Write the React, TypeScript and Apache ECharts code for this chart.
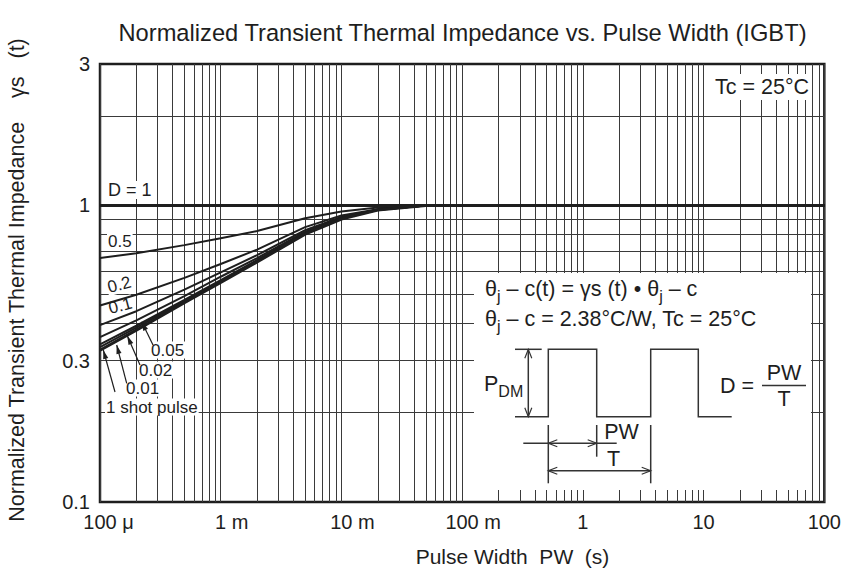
import React, { useEffect, useRef } from 'react';
import * as echarts from 'echarts';

// ---- data ----
const pulseWidth = [1e-4, 2e-4, 5e-4, 1e-3, 2e-3, 5e-3, 1e-2, 2e-2, 5e-2, 100];
const curveD1 = [1, 1, 1, 1, 1, 1, 1, 1, 1, 1];
const curveD05 = [0.665, 0.69, 0.735, 0.775, 0.82, 0.905, 0.955, 0.985, 1, 1];
const curveD02 = [0.46, 0.5, 0.57, 0.635, 0.71, 0.845, 0.925, 0.972, 1, 1];
const curveD01 = [0.395, 0.44, 0.52, 0.595, 0.68, 0.825, 0.915, 0.97, 1, 1];
const curveD005 = [0.36, 0.41, 0.495, 0.575, 0.665, 0.815, 0.91, 0.968, 1, 1];
const curveD002 = [0.34, 0.393, 0.48, 0.56, 0.655, 0.81, 0.907, 0.967, 1, 1];
const curveD001 = [0.333, 0.387, 0.476, 0.556, 0.65, 0.805, 0.905, 0.966, 1, 1];
const curveSingle = [0.325, 0.38, 0.47, 0.55, 0.645, 0.8, 0.9, 0.965, 1, 1];

const xTickLabels = ['100 μ', '1 m', '10 m', '100 m', '1', '10', '100'];
const yTickValues = [3, 1, 0.3, 0.1];
const yTickLabels = ['3', '1', '0.3', '0.1'];

const xDecades = [1e-4, 1e-3, 1e-2, 1e-1, 1, 10];
const gridMultipliers = [1, 2, 3, 4, 5, 6, 7, 8, 9];
const yGridValues = [0.2, 0.3, 0.4, 0.5, 0.6, 0.7, 0.8, 0.9, 1, 2];

const FONT = '"Liberation Sans", Arial, Helvetica, sans-serif';
const INK = '#1e1e1e';

function pts(arr: number[]) {
  return pulseWidth.map((t, i) => [t, arr[i]]);
}

function filledHead(tip: number[], tail: number[], len = 9, hw = 2.6) {
  const dx = tip[0] - tail[0];
  const dy = tip[1] - tail[1];
  const d = Math.hypot(dx, dy);
  const ux = dx / d, uy = dy / d;
  const bx = tip[0] - ux * len, by = tip[1] - uy * len;
  return [tip, [bx - uy * hw, by + ux * hw], [bx + uy * hw, by - ux * hw]];
}
function openHead(tip: number[], dir: number[], len = 9, hw = 3.5) {
  const ux = dir[0], uy = dir[1];
  const bx = tip[0] - ux * len, by = tip[1] - uy * len;
  return [[bx - uy * hw, by + ux * hw], tip, [bx + uy * hw, by - ux * hw]];
}

export default function App() {
  const ref = useRef<HTMLDivElement>(null);
  useEffect(() => {
    if (!ref.current) return;
    const chart = echarts.init(ref.current, undefined, { renderer: 'svg' });

    const xGrid: number[] = [];
    xDecades.forEach((d) => gridMultipliers.forEach((m) => xGrid.push(d * m)));
    xGrid.push(100);

    const curve = (name: string, arr: number[], w: number) => ({
      type: 'line',
      name,
      data: pts(arr),
      symbol: 'none',
      z: 5,
      lineStyle: { color: INK, width: w },
      silent: true,
    });

    const curveLabels = [
      { text: 'D = 1', x: 107, y: 190, rot: 0, size: 18 },
      { text: '0.5', x: 107, y: 241, rot: 0, size: 17 },
      { text: '0.2', x: 107, y: 288, rot: 0.26, size: 17 },
      { text: '0.1', x: 108, y: 309, rot: 0.26, size: 17 },
      { text: '0.05', x: 150, y: 350, rot: 0, size: 17 },
      { text: '0.02', x: 138, y: 370, rot: 0, size: 17 },
      { text: '0.01', x: 125, y: 388, rot: 0, size: 17 },
      { text: '1 shot pulse', x: 105, y: 407, rot: 0, size: 17 },
    ];
    const arrows = [
      { tail: [153, 345], tip: [141.7, 321.7] },
      { tail: [140, 365], tip: [127.3, 335.7] },
      { tail: [126.7, 383.3], tip: [116.7, 345] },
      { tail: [115, 392], tip: [103.3, 350] },
    ];

    const graphic: any[] = [];
    graphic.push({ type: 'rect', z: 3, shape: { x: 474, y: 273, width: 337, height: 217 }, style: { fill: '#fff' }, silent: true });

    curveLabels.forEach((l) => {
      graphic.push({
        type: 'text', z: 4, x: l.x, y: l.y, rotation: l.rot, originX: 0, originY: 0,
        style: { text: l.text, fontSize: l.size, fontFamily: FONT, fill: INK, align: 'left', verticalAlign: 'middle', backgroundColor: '#fff', padding: [0, 1] },
      });
    });
    arrows.forEach((a) => {
      graphic.push({ type: 'line', z: 6, shape: { x1: a.tail[0], y1: a.tail[1], x2: a.tip[0], y2: a.tip[1] }, style: { stroke: INK, lineWidth: 1.2 } });
      graphic.push({ type: 'polygon', z: 6, shape: { points: filledHead(a.tip, a.tail) }, style: { fill: INK } });
    });

    graphic.push({
      type: 'text', z: 6, x: 762, y: 87,
      style: { text: 'Tc = 25°C', fontSize: 21.5, fontFamily: FONT, fill: INK, align: 'center', verticalAlign: 'middle', backgroundColor: '#fff', padding: [2, 3] },
    });

    const richMain = { fontSize: 21.5, fontFamily: FONT, fill: INK, lineHeight: 30, verticalAlign: 'middle' };
    const richSub = { fontSize: 16, fontFamily: FONT, fill: INK, lineHeight: 14, verticalAlign: 'bottom' };
    graphic.push({
      type: 'text', z: 6, x: 485, y: 289,
      style: { text: '{a|θ}{s|j}{a| – c(t) = γs (t) • θ}{s|j}{a| – c}', fontFamily: FONT, fontSize: 21.5, fill: INK, align: 'left', verticalAlign: 'middle', rich: { a: richMain, s: richSub } },
    });
    graphic.push({
      type: 'text', z: 6, x: 485, y: 319,
      style: { text: '{a|θ}{s|j}{a| – c = 2.38°C/W, Tc = 25°C}', fontFamily: FONT, fontSize: 21.5, fill: INK, align: 'left', verticalAlign: 'middle', rich: { a: richMain, s: richSub } },
    });
    graphic.push({
      type: 'text', z: 6, x: 484, y: 384,
      style: { text: '{a|P}{s|DM}', fontFamily: FONT, fontSize: 21.5, fill: INK, align: 'left', verticalAlign: 'middle', rich: { a: richMain, s: richSub } },
    });

    const waveStroke = { stroke: '#333', lineWidth: 1.5, fill: 'none' };
    const headStroke = { stroke: '#333', lineWidth: 1.2, fill: 'none' };
    graphic.push({
      type: 'polyline', z: 6,
      shape: { points: [[515, 416.7], [548.3, 416.7], [548.3, 349.3], [596.7, 349.3], [596.7, 416.7], [650.7, 416.7], [650.7, 349.3], [698.3, 349.3], [698.3, 416.7], [731.7, 416.7]] },
      style: waveStroke,
    });
    graphic.push({ type: 'line', z: 6, shape: { x1: 515, y1: 349.3, x2: 541.7, y2: 349.3 }, style: waveStroke });
    graphic.push({ type: 'line', z: 6, shape: { x1: 528.3, y1: 349.3, x2: 528.3, y2: 416.7 }, style: waveStroke });
    graphic.push({ type: 'polyline', z: 6, shape: { points: openHead([528.3, 349.3], [0, -1]) }, style: headStroke });
    graphic.push({ type: 'polyline', z: 6, shape: { points: openHead([528.3, 416.7], [0, 1]) }, style: headStroke });
    graphic.push({ type: 'line', z: 6, shape: { x1: 548.3, y1: 425, x2: 548.3, y2: 483.3 }, style: waveStroke });
    graphic.push({ type: 'line', z: 6, shape: { x1: 596.7, y1: 425, x2: 596.7, y2: 456.7 }, style: waveStroke });
    graphic.push({ type: 'line', z: 6, shape: { x1: 650.7, y1: 425, x2: 650.7, y2: 483.3 }, style: waveStroke });
    graphic.push({ type: 'line', z: 6, shape: { x1: 523.3, y1: 443.3, x2: 616.7, y2: 443.3 }, style: waveStroke });
    graphic.push({ type: 'polyline', z: 6, shape: { points: openHead([548.3, 443.3], [-1, 0]) }, style: headStroke });
    graphic.push({ type: 'polyline', z: 6, shape: { points: openHead([596.7, 443.3], [1, 0]) }, style: headStroke });
    graphic.push({ type: 'line', z: 6, shape: { x1: 548.3, y1: 470.7, x2: 650.7, y2: 470.7 }, style: waveStroke });
    graphic.push({ type: 'polyline', z: 6, shape: { points: openHead([548.3, 470.7], [-1, 0]) }, style: headStroke });
    graphic.push({ type: 'polyline', z: 6, shape: { points: openHead([650.7, 470.7], [1, 0]) }, style: headStroke });
    graphic.push({ type: 'text', z: 6, x: 621.5, y: 432, style: { text: 'PW', fontSize: 21.5, fontFamily: FONT, fill: INK, align: 'center', verticalAlign: 'middle' } });
    graphic.push({ type: 'text', z: 6, x: 613.5, y: 459, style: { text: 'T', fontSize: 21.5, fontFamily: FONT, fill: INK, align: 'center', verticalAlign: 'middle' } });
    graphic.push({ type: 'text', z: 6, x: 720, y: 386, style: { text: 'D =', fontSize: 21.5, fontFamily: FONT, fill: INK, align: 'left', verticalAlign: 'middle' } });
    graphic.push({ type: 'text', z: 6, x: 784, y: 373, style: { text: 'PW', fontSize: 21.5, fontFamily: FONT, fill: INK, align: 'center', verticalAlign: 'middle' } });
    graphic.push({ type: 'line', z: 6, shape: { x1: 762, y1: 385.5, x2: 806, y2: 385.5 }, style: { stroke: '#333', lineWidth: 1.5 } });
    graphic.push({ type: 'text', z: 6, x: 784, y: 399, style: { text: 'T', fontSize: 21.5, fontFamily: FONT, fill: INK, align: 'center', verticalAlign: 'middle' } });

    graphic.push({ type: 'text', z: 6, x: 462.5, y: 33, style: { text: 'Normalized Transient Thermal Impedance vs. Pulse Width (IGBT)', fontSize: 23.7, fontFamily: FONT, fill: INK, align: 'center', verticalAlign: 'middle' } });
    graphic.push({ type: 'text', z: 6, x: 512.5, y: 556, style: { text: 'Pulse Width  PW  (s)', fontSize: 21, fontFamily: FONT, fill: INK, align: 'center', verticalAlign: 'middle' } });
    graphic.push({ type: 'text', z: 6, x: 17, y: 280, rotation: Math.PI / 2, style: { text: 'Normalized Transient Thermal Impedance    γs   (t)', fontSize: 21.5, fontFamily: FONT, fill: INK, align: 'center', verticalAlign: 'middle' } });

    const option: any = {
      animation: false,
      textStyle: { fontFamily: FONT },
      grid: { left: 100, top: 64, right: 19, bottom: 73, show: true, borderColor: INK, borderWidth: 2.5, backgroundColor: '#fff' },
      xAxis: {
        type: 'log', logBase: 10, min: 1e-4, max: 100, splitNumber: 6,
        axisLine: { show: false }, axisTick: { show: false }, splitLine: { show: false },
        axisLabel: {
          margin: 10,
          color: INK,
          formatter: (v: number) => {
            const i = Math.round(Math.log10(v)) + 4;
            const lab = xTickLabels[i];
            if (!lab) return '';
            const parts = lab.split(' ');
            if (parts.length < 2) return `{n|${parts[0]}}`;
            return `{${parts[1] === 'm' ? 'pm' : 'pu'}|}{n|${parts[0]}}{u| ${parts[1]}}`;
          },
          rich: {
            n: { fontSize: 20, color: INK, fontFamily: FONT },
            u: { fontSize: 20, color: INK, fontFamily: FONT },
            pm: { width: 22 },
            pu: { width: 17 },
          },
        },
      },
      yAxis: {
        type: 'log', logBase: 10, min: 0.1, max: 3,
        axisLine: { show: false }, axisTick: { show: false }, splitLine: { show: false }, axisLabel: { show: false },
      },
      series: [
        {
          type: 'line', name: 'grid', data: [[1e-4, 1]], symbol: 'none', silent: true, z: 1,
          lineStyle: { opacity: 0 },
          markLine: {
            z: 1, silent: true, symbol: ['none', 'none'], animation: false, precision: 10,
            label: { show: false },
            lineStyle: { color: '#3a3a3a', width: 1, type: 'solid' },
            data: [...xGrid.map((v) => ({ xAxis: v })), ...yGridValues.map((v) => ({ yAxis: v }))],
          },
        },
        {
          type: 'line', name: 'ylabels', data: [[1e-4, 1]], symbol: 'none', silent: true, z: 6,
          lineStyle: { opacity: 0 },
          markLine: {
            z: 6, silent: true, symbol: ['none', 'none'], animation: false, precision: 10,
            lineStyle: { color: 'rgba(0,0,0,0)', width: 0 },
            label: { show: true, position: 'start', fontSize: 20, color: INK, fontFamily: FONT, distance: 10 },
            data: yTickValues.map((v, i) => ({ yAxis: v, label: { formatter: yTickLabels[i] } })),
          },
        },
        curve('D=0.5', curveD05, 2),
        curve('D=0.2', curveD02, 2),
        curve('D=0.1', curveD01, 2),
        curve('D=0.05', curveD005, 2),
        curve('D=0.02', curveD002, 2),
        curve('D=0.01', curveD001, 2),
        curve('1 shot pulse', curveSingle, 3),
        curve('D=1', curveD1, 3.2),
      ],
      graphic,
    };
    chart.setOption(option);
    return () => chart.dispose();
  }, []);
  return <div ref={ref} style={{ position: 'absolute', left: 0, top: 0, width: 844, height: 575, background: '#fff' }} />;
}
